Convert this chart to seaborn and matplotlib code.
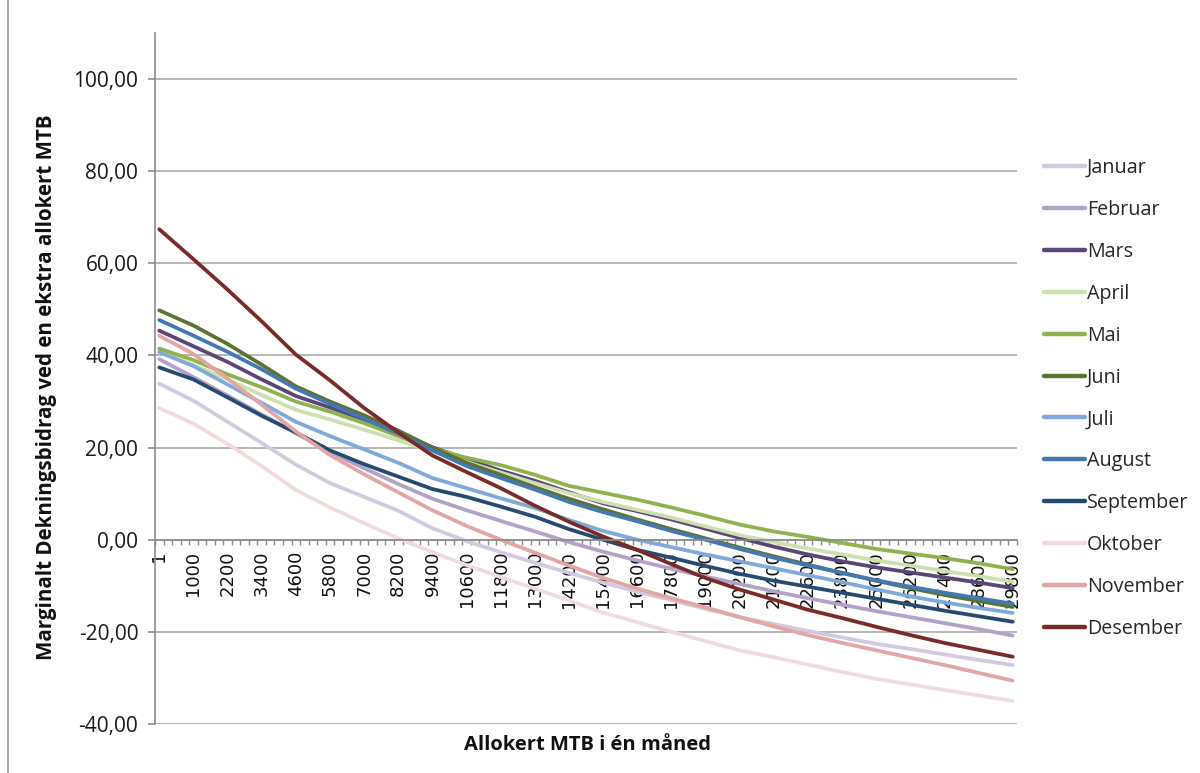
import numpy as np
import pandas as pd
import matplotlib
matplotlib.use("Agg")
import matplotlib.pyplot as plt
import seaborn as sns
from matplotlib.lines import Line2D
from matplotlib.ticker import FixedLocator, FuncFormatter

# Category axis: allocated MTB per month (1, 100, 400, ..., 29800)
n_categories = 101
tick_labels = ["1", "1000", "2200", "3400", "4600", "5800", "7000", "8200", "9400",
               "10600", "11800", "13000", "14200", "15400", "16600", "17800", "19000",
               "20200", "21400", "22600", "23800", "25000", "26200", "27400", "28600",
               "29800"]
label_every = 4

months = ["Januar", "Februar", "Mars", "April", "Mai", "Juni", "Juli", "August",
          "September", "Oktober", "November", "Desember"]

januar = [33.9, 30.2, 25.6, 21.0, 16.3, 12.3, 9.3, 6.3, 2.5, -0.3, -2.7, -5.0, -7.2,
          -9.3, -11.3, -13.1, -15.0, -16.8, -18.3, -19.8, -21.2, -22.6, -23.7, -24.9, -26.1, -27.2]
februar = [39.2, 35.3, 31.3, 27.2, 23.1, 19.1, 15.5, 12.1, 8.9, 6.4, 4.1, 1.8, -0.5,
           -2.6, -4.5, -6.3, -8.0, -9.6, -11.2, -12.7, -14.1, -15.5, -16.8, -18.1, -19.4, -20.8]
mars = [45.4, 42.0, 38.6, 34.8, 31.2, 28.7, 26.1, 23.3, 20.1, 17.5, 15.0, 12.8, 10.3,
        7.9, 6.2, 4.4, 2.4, 0.4, -1.5, -3.2, -4.7, -6.0, -7.1, -8.2, -9.3, -10.5]
april = [41.0, 37.9, 34.8, 31.4, 28.2, 26.1, 23.9, 21.6, 19.2, 16.9, 14.6, 12.3, 10.1,
         8.2, 6.5, 4.8, 2.9, 1.0, -0.5, -1.9, -3.2, -4.5, -5.6, -6.8, -7.9, -9.1]
mai = [41.5, 39.0, 35.9, 33.1, 30.0, 27.8, 25.3, 22.5, 19.8, 17.8, 16.2, 14.1, 11.7,
       10.2, 8.7, 7.0, 5.2, 3.3, 1.8, 0.6, -0.7, -2.0, -3.0, -4.0, -5.1, -6.4]
juni = [49.8, 46.5, 42.5, 38.0, 33.3, 30.0, 27.0, 23.7, 20.0, 16.7, 14.1, 11.4, 8.9,
        6.6, 4.4, 2.3, 0.3, -1.7, -3.6, -5.4, -7.2, -8.9, -10.5, -12.0, -13.3, -14.6]
juli = [40.7, 37.7, 33.7, 29.7, 25.6, 22.5, 19.6, 16.7, 13.4, 11.2, 9.0, 6.9, 4.3,
        1.9, 0.0, -1.6, -3.2, -4.7, -6.2, -7.7, -9.2, -10.8, -12.3, -13.6, -14.8, -15.9]
august = [47.7, 44.3, 40.8, 37.0, 32.8, 29.5, 26.3, 23.0, 19.4, 16.0, 13.4, 10.9, 8.2,
          6.0, 4.0, 1.9, 0.0, -2.0, -3.9, -5.6, -7.2, -8.8, -10.2, -11.5, -12.7, -13.9]
september = [37.4, 34.8, 30.9, 26.9, 23.3, 19.4, 16.4, 13.7, 11.0, 9.3, 7.2, 5.0, 2.3,
             0.0, -2.2, -3.9, -5.7, -7.4, -8.9, -10.2, -11.5, -12.8, -14.1, -15.4, -16.6, -17.8]
oktober = [28.6, 25.2, 20.8, 16.0, 10.8, 7.0, 3.6, 0.3, -2.7, -5.5, -8.1, -10.6, -13.2,
           -15.8, -17.9, -20.0, -22.0, -24.0, -25.5, -27.1, -28.7, -30.2, -31.4, -32.6, -33.8, -35.0]
november = [44.3, 40.3, 35.0, 29.3, 23.5, 18.4, 14.2, 10.3, 6.4, 3.0, 0.0, -2.8, -5.6,
            -8.3, -10.6, -12.7, -14.7, -16.8, -18.8, -20.7, -22.4, -24.0, -25.6, -27.2, -28.9, -30.6]
desember = [67.4, 60.9, 54.3, 47.4, 40.2, 34.6, 28.6, 23.3, 18.3, 14.7, 11.2, 7.4, 3.9,
            0.7, -2.2, -5.3, -8.3, -10.8, -13.0, -15.2, -17.0, -18.9, -20.7, -22.4, -23.9, -25.4]

series = [januar, februar, mars, april, mai, juni, juli, august, september,
          oktober, november, desember]

colors = ["#D3CAE0", "#B3A2C7", "#5B4677", "#CFE0B0", "#8FB24E", "#5C7230",
          "#7FA9DA", "#4478B4", "#274B70", "#F2DCDB", "#E2A6A4", "#7A2B28"]

positions = [i * label_every for i in range(len(tick_labels))]

rows = []
for month, vals in zip(months, series):
    for pos, lab, v in zip(positions, tick_labels, vals):
        rows.append({"pos": pos, "mtb": lab, "month": month, "value": v})
df = pd.DataFrame(rows)

sns.set_theme(style="white")
plt.rcParams["font.family"] = ["Open Sans", "DejaVu Sans"]

W, H = 1200, 773
fig = plt.figure(figsize=(W / 100, H / 100), dpi=100)
ax = fig.add_axes([155 / W, 49 / H, 862 / W, 691 / H])

sns.lineplot(data=df, x="pos", y="value", hue="month", hue_order=months,
             palette=dict(zip(months, colors)), estimator=None, sort=True,
             linewidth=2.7, ax=ax, legend=False)

grid_c = "#A3A3A3"
axis_c = "#8A8A8A"

ax.set_xlim(-0.5, n_categories - 0.5)
ax.set_ylim(-40, 110)

for s in ("top", "right"):
    ax.spines[s].set_visible(False)
ax.spines["left"].set_color(axis_c)
ax.spines["left"].set_linewidth(1.2)
ax.spines["bottom"].set_position(("data", 0))
ax.spines["bottom"].set_color(axis_c)
ax.spines["bottom"].set_linewidth(1.2)
ax.set_axisbelow(True)

# y axis
yt = list(range(-40, 101, 20))
ax.yaxis.set_major_locator(FixedLocator(yt))
ax.yaxis.set_major_formatter(FuncFormatter(lambda v, p: f"{v:.2f}".replace(".", ",")))
ax.tick_params(axis="y", which="major", direction="out", length=5, width=1.2,
               color=axis_c, labelsize=15, pad=7, labelcolor="#1a1a1a", left=True)
ax.yaxis.grid(True, color=grid_c, linewidth=1.1)
ax.xaxis.grid(False)

# x axis: labels at every 4th category, tick marks between categories
ax.xaxis.set_major_locator(FixedLocator(positions))
ax.set_xticklabels(tick_labels, rotation=90, family="DejaVu Sans", fontsize=13)
ax.xaxis.set_minor_locator(FixedLocator(np.arange(-0.5, n_categories, 1.0)))
ax.tick_params(axis="x", which="major", length=0, pad=8, labelcolor="#111111", bottom=True)
ax.tick_params(axis="x", which="minor", direction="out", length=3.5, width=1.0,
               color=axis_c, bottom=True)
for lab in ax.get_xticklabels():
    lab.set_verticalalignment("top")

ax.set_xlabel("")
ax.set_ylabel("")

fig.text(587 / W, 1 - 745 / H, "Allokert MTB i én måned", ha="center", va="center",
         fontsize=14.5, fontweight="bold", color="#111111")
fig.text(47 / W, 1 - 387 / H, "Marginalt Dekningsbidrag ved en ekstra allokert MTB",
         ha="center", va="center", rotation=90, fontsize=14.8, fontweight="bold",
         color="#111111")

handles = [Line2D([0], [0], color=c, lw=3.2) for c in colors]
ax.legend(handles, months, loc="upper left", bbox_to_anchor=(1044 / W, 1 - 158 / H),
          bbox_transform=fig.transFigure, frameon=False, fontsize=14.2,
          handlelength=2.1, handletextpad=0.08, labelspacing=1.11, borderpad=0,
          borderaxespad=0)

# chart border
fig.add_artist(Line2D([8 / W, 8 / W], [0, 1], transform=fig.transFigure,
                      color="#9A9A9A", lw=1.2))

fig.savefig("out.png", dpi=100, facecolor="white")
